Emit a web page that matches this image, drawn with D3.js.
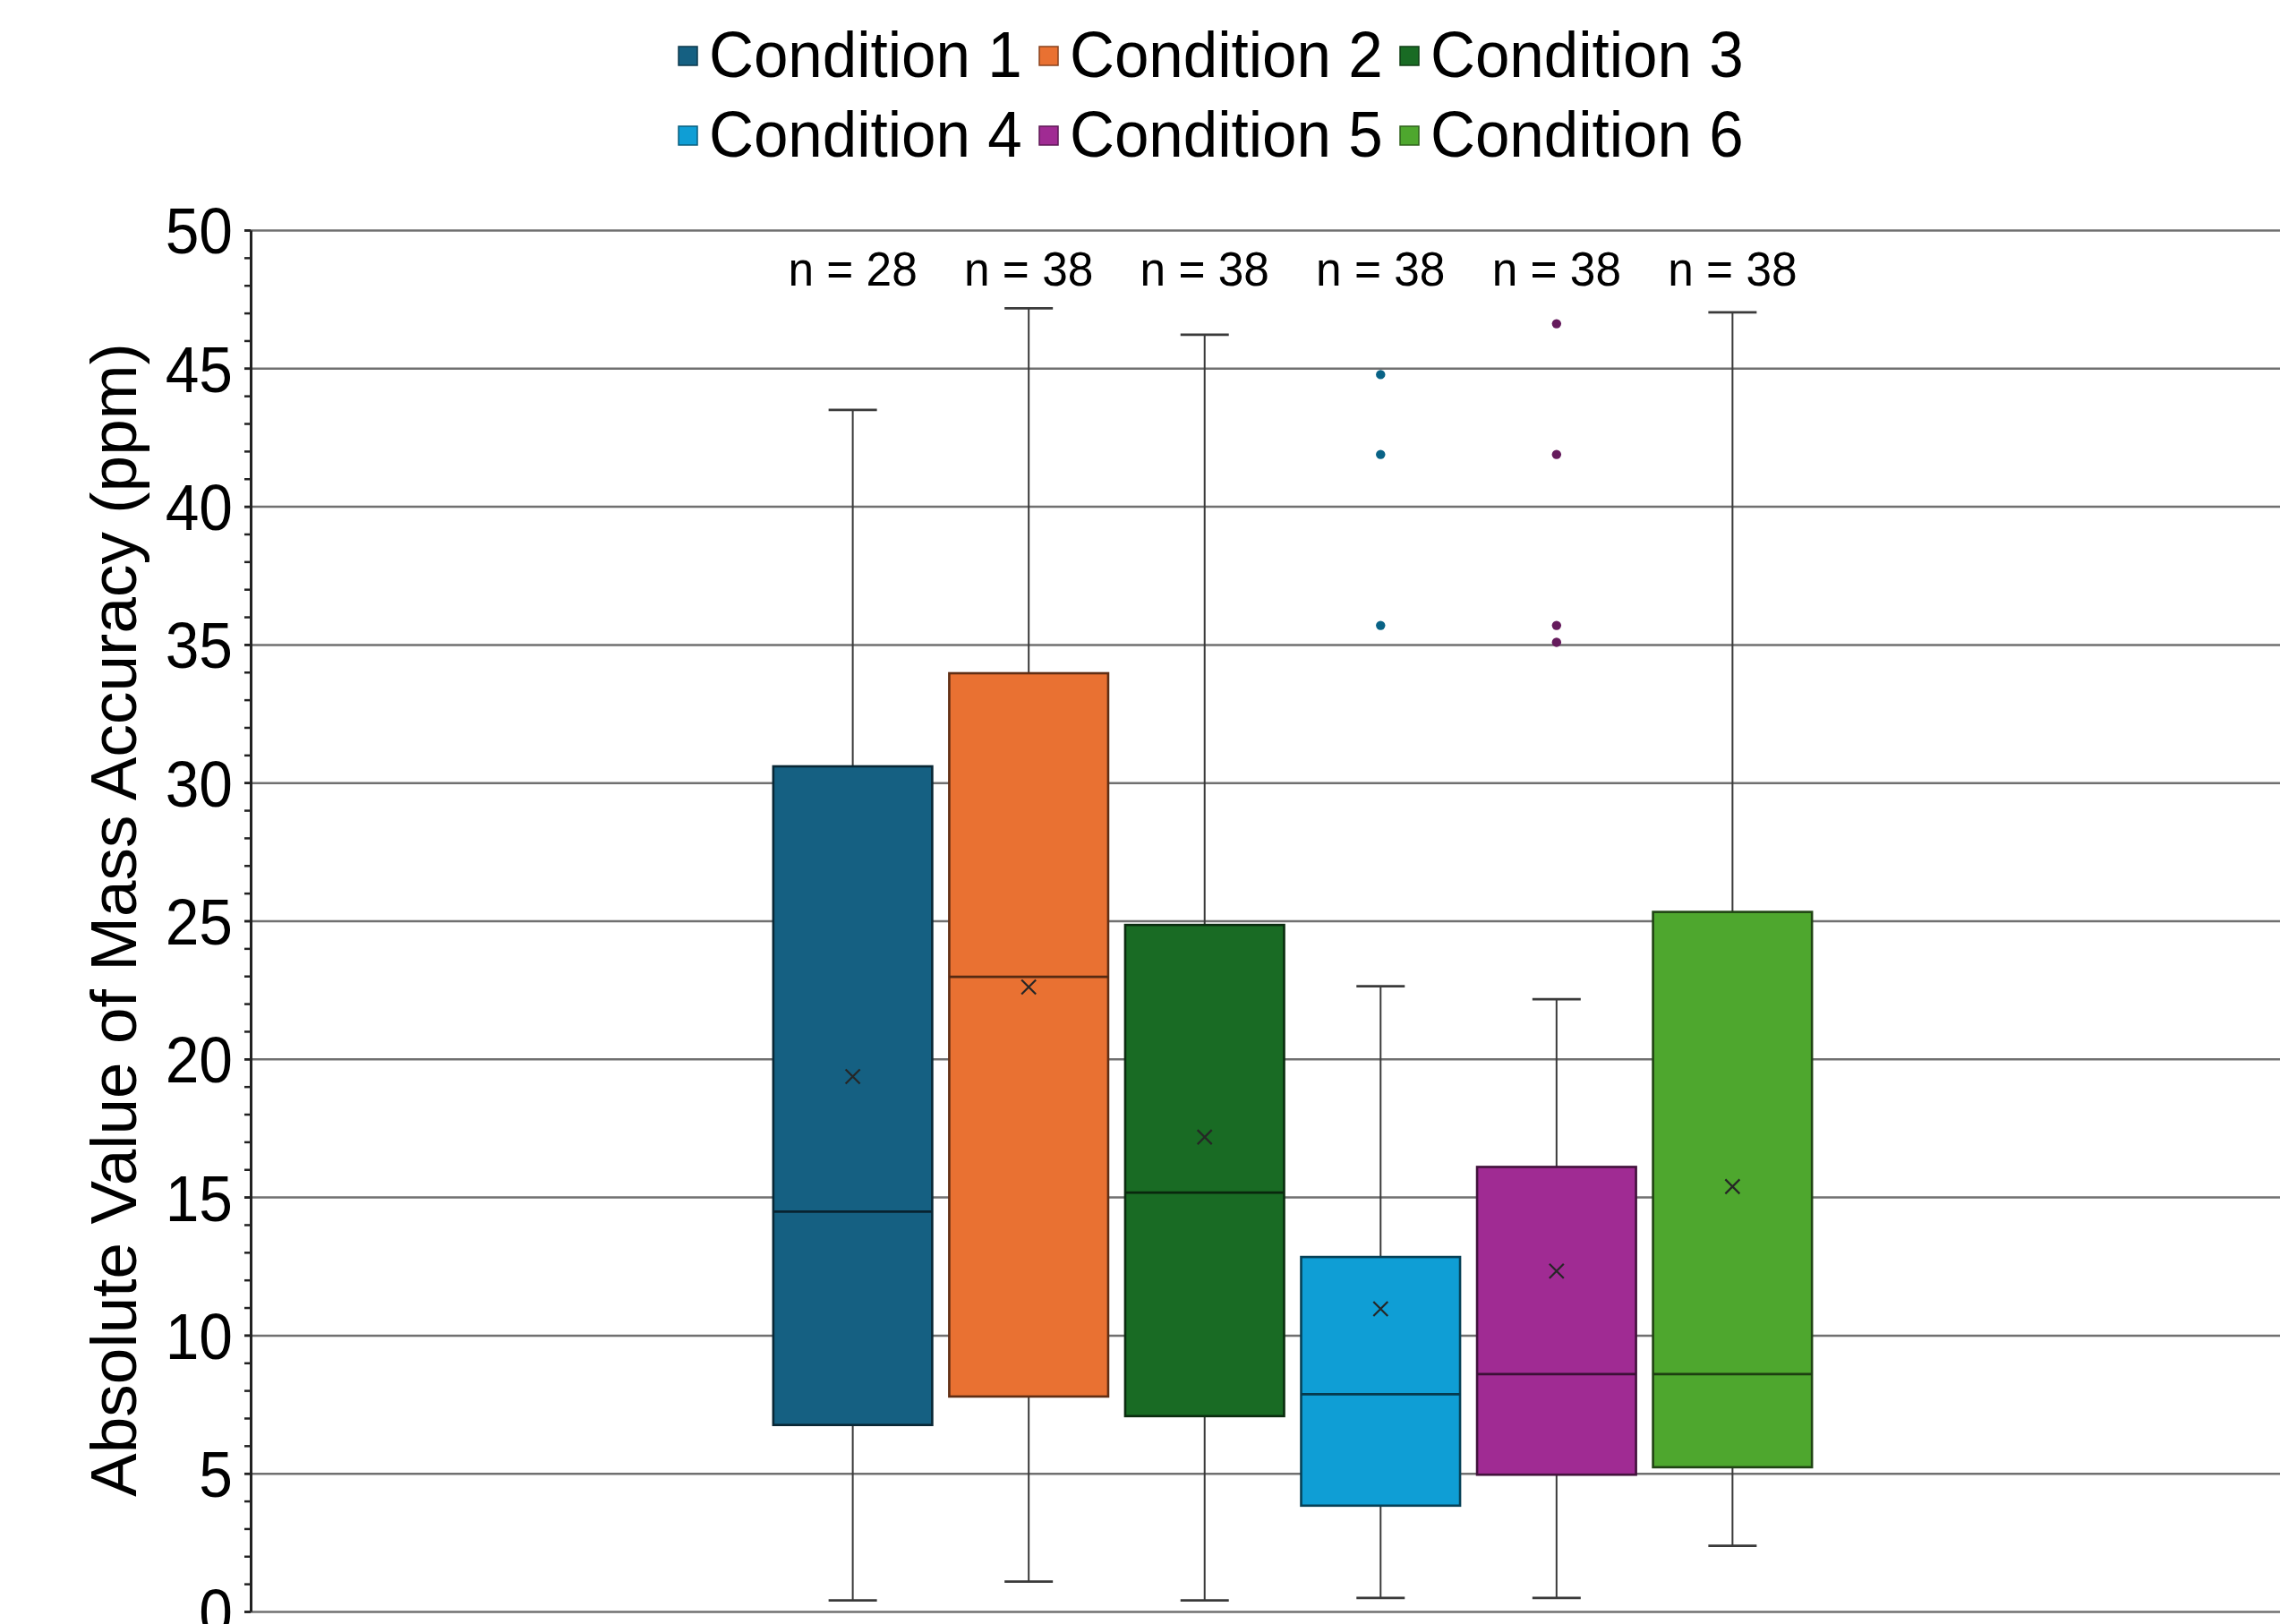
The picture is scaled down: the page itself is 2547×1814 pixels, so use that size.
<!DOCTYPE html>
<html>
<head>
<meta charset="utf-8">
<script src="https://cdn.jsdelivr.net/npm/d3@7"></script>
<style>
  body { margin: 0; background: #fff; }
  text { font-family: "Liberation Sans", Arial, sans-serif; fill: #000; }
</style>
</head>
<body>
<svg id="chart"></svg>
<script>
// data
const groups = [""];
const series = ["Condition 1", "Condition 2", "Condition 3", "Condition 4", "Condition 5", "Condition 6"];
const colors = ["#156082", "#E97132", "#196B24", "#0F9ED5", "#A02B93", "#4EA72E"];
const counts = [28, 38, 38, 38, 38, 38];
const whiskerLow = [0.40, 1.08, 0.40, 0.49, 0.49, 2.38];
const q1 = [6.75, 7.78, 7.07, 3.83, 4.95, 5.22];
const medians = [14.47, 22.97, 15.16, 7.86, 8.59, 8.59];
const q3 = [30.59, 33.96, 24.85, 12.83, 16.09, 25.32];
const whiskerHigh = [43.49, 47.17, 46.21, 22.63, 22.16, 47.02];
const means = [19.36, 22.6, 17.17, 10.95, 12.32, 15.38];
const outliers = [[], [], [], [44.77, 41.88, 35.69], [46.61, 41.88, 35.69, 35.08], []];
const yTicks = [0, 5, 10, 15, 20, 25, 30, 35, 40, 45, 50];
const yTitle = "Absolute Value of Mass Accuracy (ppm)";

const width = 2547, height = 1814;
const plot = { left: 280, right: 2608, top: 257, bottom: 1800 };

const svg = d3.select("#chart")
  .attr("width", width)
  .attr("height", height)
  .style("display", "block");

svg.append("rect").attr("width", width).attr("height", height).attr("fill", "#fff");

// scales
const y = d3.scaleLinear()
  .domain([0, 50])
  .range([plot.bottom, plot.top]);

const xGroup = d3.scaleBand()
  .domain(groups)
  .range([plot.left, plot.right])
  .paddingOuter(0.487);

const x = d3.scaleBand()
  .domain(series)
  .range([xGroup(""), xGroup("") + xGroup.bandwidth()])
  .paddingInner(0.0967)
  .paddingOuter(0.0484);

const data = series.map((s, i) => ({
  name: s, color: colors[i], n: counts[i],
  lo: whiskerLow[i], q1: q1[i], med: medians[i], q3: q3[i], hi: whiskerHigh[i],
  mean: means[i], out: outliers[i]
}));

// gridlines
svg.append("g")
  .attr("transform", "translate(" + plot.left + ",0)")
  .call(d3.axisLeft(y).tickValues(yTicks).tickSize(-(plot.right - plot.left)).tickFormat(""))
  .call(g => g.select(".domain").remove())
  .selectAll("line")
  .attr("stroke", "#707070")
  .attr("stroke-width", 2.5);

// minor ticks
svg.append("g")
  .attr("transform", "translate(" + plot.left + ",0)")
  .call(d3.axisLeft(y).ticks(50).tickSize(7).tickFormat(""))
  .call(g => g.select(".domain").remove())
  .selectAll("line")
  .attr("stroke", "#222")
  .attr("stroke-width", 2.5);

// y axis
const yAxis = svg.append("g")
  .attr("transform", "translate(" + plot.left + ",0)")
  .call(d3.axisLeft(y).tickValues(yTicks).tickSize(7).tickPadding(13).tickSizeOuter(0));

yAxis.select(".domain").attr("stroke", "#222").attr("stroke-width", 3);
yAxis.selectAll(".tick line").attr("stroke", "#222").attr("stroke-width", 2.5);
yAxis.selectAll(".tick text")
  .attr("font-size", 72)
  .attr("font-family", "Liberation Sans, Arial, sans-serif")
  .attr("fill", "#000")
  .attr("x", -21.3)
  .attr("dy", "0.36em")
  .attr("transform", "scale(0.94,1)");

// y title
svg.append("text")
  .attr("transform", "translate(152," + ((plot.top + 125 + 1673) / 2) + ") rotate(-90)")
  .attr("text-anchor", "middle")
  .attr("font-size", 73)
  .text(yTitle);

const boxes = svg.append("g");
const cx = d => x(d.name) + x.bandwidth() / 2;
const capHalf = 27;

// whiskers
boxes.selectAll(".whisker")
  .data(data)
  .enter()
  .append("line")
  .attr("x1", cx).attr("x2", cx)
  .attr("y1", d => y(d.hi)).attr("y2", d => y(d.lo))
  .attr("stroke", "#3a3a3a")
  .attr("stroke-width", 2);

boxes.selectAll(".cap-hi")
  .data(data)
  .enter()
  .append("line")
  .attr("x1", d => cx(d) - capHalf).attr("x2", d => cx(d) + capHalf)
  .attr("y1", d => y(d.hi)).attr("y2", d => y(d.hi))
  .attr("stroke", "#3a3a3a")
  .attr("stroke-width", 2.8);

boxes.selectAll(".cap-lo")
  .data(data)
  .enter()
  .append("line")
  .attr("x1", d => cx(d) - capHalf).attr("x2", d => cx(d) + capHalf)
  .attr("y1", d => y(d.lo)).attr("y2", d => y(d.lo))
  .attr("stroke", "#3a3a3a")
  .attr("stroke-width", 2.8);

// boxes
boxes.selectAll(".box")
  .data(data)
  .enter()
  .append("rect")
  .attr("x", d => x(d.name))
  .attr("y", d => y(d.q3))
  .attr("width", x.bandwidth())
  .attr("height", d => y(d.q1) - y(d.q3))
  .attr("fill", d => d.color)
  .attr("stroke", d => d3.color(d.color).darker(2.5))
  .attr("stroke-width", 2.6);

// medians
boxes.selectAll(".median")
  .data(data)
  .enter()
  .append("line")
  .attr("x1", d => x(d.name)).attr("x2", d => x(d.name) + x.bandwidth())
  .attr("y1", d => y(d.med)).attr("y2", d => y(d.med))
  .attr("stroke", d => d3.color(d.color).darker(2.8))
  .attr("stroke-width", 2.8);

// mean markers
const m = 8;
boxes.selectAll(".mean")
  .data(data)
  .enter()
  .append("path")
  .attr("d", d => {
    const px = cx(d), py = y(d.mean);
    return `M${px - m},${py - m}L${px + m},${py + m}M${px - m},${py + m}L${px + m},${py - m}`;
  })
  .attr("stroke", "#262626")
  .attr("stroke-width", 2.2)
  .attr("fill", "none");

// outliers
data.forEach(d => {
  boxes.selectAll(null)
    .data(d.out)
    .enter()
    .append("circle")
    .attr("cx", cx(d))
    .attr("cy", v => y(v))
    .attr("r", 5.2)
    .attr("fill", d3.color(d.color).darker(1.3));
});

// n labels
svg.append("g").selectAll("g")
  .data(data)
  .enter()
  .append("g")
  .attr("transform", d => "translate(" + cx(d) + ",319) scale(0.97,1)")
  .append("text")
  .attr("text-anchor", "middle")
  .attr("font-size", 53)
  .text(d => "n = " + d.n);

// legend
const legend = svg.append("g");
const item = legend.selectAll("g")
  .data(data)
  .enter()
  .append("g")
  .attr("transform", (d, i) => "translate(" + (758 + (i % 3) * 403) + "," + (86 + Math.floor(i / 3) * 89) + ")");

item.append("rect")
  .attr("x", 0).attr("y", -34)
  .attr("width", 21).attr("height", 21)
  .attr("fill", d => d.color)
  .attr("stroke", d => d3.color(d.color).darker(1.5))
  .attr("stroke-width", 1.5);

item.append("g")
  .attr("transform", "translate(34,0) scale(0.96,1)")
  .append("text")
  .attr("font-size", 72)
  .text(d => d.name);
</script>
</body>
</html>
